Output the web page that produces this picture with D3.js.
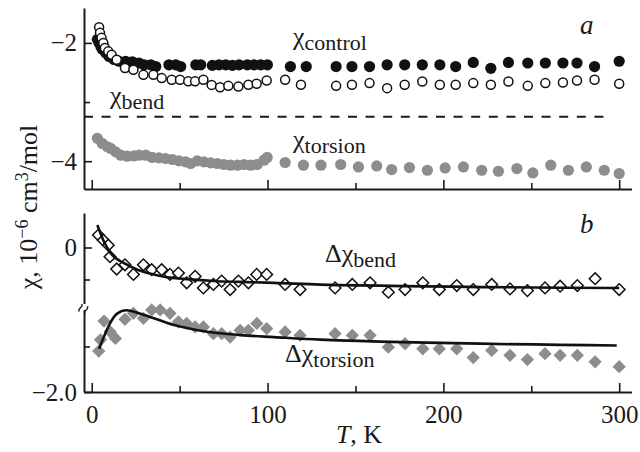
<!DOCTYPE html>
<html>
<head>
<meta charset="utf-8">
<script src="https://cdn.jsdelivr.net/npm/d3@7"></script>
<style>
  body { margin: 0; background: #fff; }
  svg { display: block; }
  svg text { font-family: "Liberation Serif", Tinos, "Times New Roman", Times, "DejaVu Serif", serif; }
</style>
</head>
<body>
<svg id="chart" width="640" height="452"></svg>
<script>
// --- Panel a: susceptibilities, 10^-6 cm3/mol ---
const controlT = [3.2, 4.2, 5.2, 6.1, 8, 9.9, 12.7, 15.5, 19.3, 23.1, 26.9, 29.8, 33.6, 36.4, 43.9, 47.8, 50.6, 59.2, 62, 68.6, 72.4, 76.2, 80, 83.8, 88.5, 92.3, 96.1, 99.9,
  113, 122, 139, 148, 158, 168, 178, 188, 198, 207, 217, 227, 237, 248, 258, 268, 276, 286, 300];
const controlChi = [-1.94, -2.0, -2.06, -2.11, -2.17, -2.23, -2.28, -2.31, -2.31, -2.32, -2.34, -2.37, -2.37, -2.40, -2.37, -2.37, -2.40, -2.37, -2.37, -2.38, -2.37, -2.37, -2.38, -2.37, -2.37, -2.37, -2.37, -2.37,
  -2.40, -2.40, -2.40, -2.40, -2.40, -2.37, -2.37, -2.37, -2.37, -2.40, -2.33, -2.43, -2.33, -2.34, -2.34, -2.34, -2.34, -2.40, -2.31];

const bendT = [4.2, 4.7, 5.6, 6.6, 7.5, 9.4, 11.3, 14.2, 18.9, 23.7, 29.4, 35.1, 39.8, 45.5, 50.2, 54.9, 58.8, 63.5, 68.2, 73, 77.7, 83.4, 89.1, 93.8, 99.5,
  110, 119, 139, 148, 158, 168, 178, 188, 198, 207, 217, 227, 237, 248, 258, 268, 276, 286, 300];
const bendChi = [-1.735, -1.83, -1.915, -2.0, -2.085, -2.143, -2.2, -2.284, -2.425, -2.454, -2.54, -2.54, -2.595, -2.624, -2.624, -2.65, -2.65, -2.624, -2.71, -2.75, -2.726, -2.737, -2.709, -2.69, -2.636,
  -2.624, -2.709, -2.726, -2.709, -2.68, -2.765, -2.709, -2.652, -2.709, -2.709, -2.68, -2.709, -2.652, -2.726, -2.68, -2.67, -2.636, -2.624, -2.69];

const torsionT = [3.2, 6.0, 8.9, 10.8, 13.6, 16.5, 20.2, 24, 26.9, 30.7, 34.4, 38.2, 42, 45.8, 49.6, 53.4, 56.3, 60, 63.8, 67.7, 71.4, 75.2, 79, 82.8, 86.6, 90.4, 94.1, 98, 99.8,
  110, 120.4, 130.4, 141.6, 151.7, 162.1, 170.6, 180.7, 190.9, 201, 211.4, 221.8, 231.3, 241.8, 250.9, 261.1, 271.1, 281.3, 291.5, 300];
const torsionChi = [-3.614, -3.70, -3.757, -3.784, -3.842, -3.898, -3.915, -3.91, -3.898, -3.898, -3.937, -3.944, -3.954, -3.971, -3.995, -4.012, -4.039, -3.995, -4.012, -4.029, -4.039, -4.056, -4.068, -4.068, -4.056, -4.068, -4.056, -3.983, -3.937,
  -4.022, -4.068, -4.068, -4.056, -4.097, -4.08, -4.141, -4.107, -4.153, -4.114, -4.097, -4.153, -4.17, -4.124, -4.199, -4.068, -4.153, -4.097, -4.153, -4.209];

// dashed reference level for chi_bend
const bendLevel = -3.25;
const bendLevelT = [-4.4, 294];

// --- Panel b: differences ---
const dBendT = [3.8, 6.6, 9.4, 10.4, 14.2, 18.9, 23.7, 29.4, 34.1, 39.8, 44.5, 49.3, 54, 58.8, 63.5, 69.2, 73.9, 78.7, 83.4, 89.1, 93.8, 99.5, 110, 118.5,
  138.4, 148.2, 158.3, 168.7, 178.2, 188.3, 197.7, 207.6, 217, 227.5, 237.9, 247.8, 257.8, 266.4, 276.2, 286.3, 300];
const dBendChi = [0.188, 0.11, 0.035, -0.144, -0.336, -0.27, -0.42, -0.27, -0.347, -0.347, -0.42, -0.40, -0.55, -0.45, -0.625, -0.574, -0.524, -0.65, -0.524, -0.55, -0.42, -0.42, -0.574, -0.65,
  -0.625, -0.574, -0.55, -0.69, -0.65, -0.55, -0.65, -0.59, -0.65, -0.574, -0.64, -0.666, -0.625, -0.60, -0.59, -0.488, -0.65];

const dTorsionT = [4, 5, 7, 10.5, 13.5, 18.9, 23.7, 29.4, 34.1, 38.9, 44.5, 49.3, 54, 58.8, 63.5, 69.2, 73.9, 78.7, 84.4, 89.1, 93.9, 99.5, 110, 118.5,
  138.4, 148.2, 158.3, 168.7, 178.2, 188.3, 197.7, 207.6, 217, 227.5, 237.9, 247.8, 257.8, 266.4, 276.2, 286.3, 300];
const dTorsionChi = [-1.55, -1.40, -1.12, -1.28, -1.38, -1.095, -1.005, -1.08, -0.955, -0.955, -1.005, -1.132, -1.156, -1.208, -1.208, -1.308, -1.308, -1.359, -1.258, -1.258, -1.156, -1.232, -1.283, -1.333,
  -1.308, -1.333, -1.333, -1.508, -1.459, -1.525, -1.525, -1.525, -1.622, -1.543, -1.597, -1.644, -1.579, -1.597, -1.597, -1.668, -1.722];

// fitted curves
const fitBendT = [3.2, 7, 10.8, 18.4, 26, 33.6, 43, 52.5, 71.4, 90.4, 103.7, 130, 300];
const fitBendChi = [0.34, 0.086, -0.09, -0.245, -0.347, -0.41, -0.465, -0.49, -0.525, -0.54, -0.55, -0.576, -0.627];
const fitTorsionT = [4.2, 14.6, 19.5, 29.8, 46.8, 65.8, 84.8, 103.7, 130, 298.6];
const fitTorsionChi = [-1.525, -1.005, -0.96, -1.03, -1.18, -1.28, -1.33, -1.36, -1.398, -1.485];

// ticks
const xMajorTicks = [0, 100, 200, 300];
const xMinorTicks = [50, 150, 250];
const aMajorTicks = [-2, -4];
const aMinorTicks = [-3];
const bMajorTicks = [0, -2];
const bMinorTicks = [-0.5, -1.5];
const bTickLabels = new Map([[0, "0"], [-2, "\u22122.0"]]);

const zip = (xs, ys) => xs.map((x, i) => ({ t: x, v: ys[i] }));

function drawChart() {
  const svg = d3.select("#chart");
  const grey = "#8d8d8d";
  const ink = "#1a1a1a";

  // --- Scales ---
  const x = d3.scaleLinear().domain([-4.4, 307]).range([84, 631.5]);
  const yA = d3.scaleLinear().domain([-4.47, -1.41]).range([189, 8]);
  // broken axis in panel b: piecewise scale
  const yB = d3.scaleLinear().domain([-2, -1.5, -0.5, 0, 0.52]).range([392, 346.5, 279.5, 247.5, 213]);

  function axes(yScale, yMajor, yMinor, yFmt, showX) {
    const g = svg.append("g");
    const yBase = yScale.range()[0];
    // x axis, ticks pointing inward
    g.append("g").attr("transform", `translate(0,${yBase})`)
      .call(d3.axisBottom(x).tickValues(xMajorTicks).tickSizeInner(-9).tickSizeOuter(0).tickPadding(13)
        .tickFormat(showX ? d3.format("d") : () => ""));
    g.append("g").attr("transform", `translate(0,${yBase})`)
      .call(d3.axisBottom(x).tickValues(xMinorTicks).tickSizeInner(-6).tickSizeOuter(0).tickFormat(() => ""))
      .select(".domain").remove();
    // y axis
    g.append("g").attr("transform", "translate(84,0)")
      .call(d3.axisLeft(yScale).tickValues(yMajor).tickSizeInner(-8).tickSizeOuter(0).tickPadding(7).tickFormat(yFmt));
    g.append("g").attr("transform", "translate(84,0)")
      .call(d3.axisLeft(yScale).tickValues(yMinor).tickSizeInner(-6).tickSizeOuter(0).tickFormat(() => ""))
      .select(".domain").remove();
    g.selectAll("g").attr("font-family", null).attr("font-size", null);
    g.selectAll(".domain").attr("stroke", ink).attr("stroke-width", 2);
    g.selectAll(".tick line").attr("stroke", ink).attr("stroke-width", 1.6);
    g.selectAll(".tick text").attr("fill", ink).style("font-size", "25px");
    return g;
  }

  // --- Panel a ---
  axes(yA, aMajorTicks, aMinorTicks, d => "\u2212" + Math.abs(d), false);

  svg.append("line")
    .attr("x1", x(bendLevelT[0])).attr("x2", x(bendLevelT[1]))
    .attr("y1", yA(bendLevel)).attr("y2", yA(bendLevel))
    .attr("stroke", ink).attr("stroke-width", 2).attr("stroke-dasharray", "9,8.6");

  svg.append("g").selectAll("circle").data(zip(torsionT, torsionChi)).join("circle")
    .attr("cx", d => x(d.t)).attr("cy", d => yA(d.v)).attr("r", 5.6).attr("fill", grey);

  svg.append("g").selectAll("circle").data(zip(controlT, controlChi)).join("circle")
    .attr("cx", d => x(d.t)).attr("cy", d => yA(d.v)).attr("r", 5.6).attr("fill", "#111");

  svg.append("g").selectAll("circle").data(zip(bendT, bendChi)).join("circle")
    .attr("cx", d => x(d.t)).attr("cy", d => yA(d.v)).attr("r", 4.5)
    .attr("fill", "#fff").attr("stroke", "#111").attr("stroke-width", 1.5);

  // --- Panel b ---
  axes(yB, bMajorTicks, bMinorTicks, d => bTickLabels.get(d), true);

  // axis break mark
  const brk = svg.append("g").attr("transform", `translate(84,${(yB(-0.5) + yB(-1.5)) / 2 - 6})`);
  brk.append("rect").attr("x", -3).attr("y", -3).attr("width", 6).attr("height", 6).attr("fill", "#fff");
  brk.append("path").attr("d", "M-6,-3 C-3,-6 -1,0 2,-3").attr("transform", "rotate(-70)")
    .attr("fill", "none").attr("stroke", ink).attr("stroke-width", 1.3);
  brk.append("path").attr("d", "M-6,3 C-3,0 -1,6 2,3").attr("transform", "rotate(-70)")
    .attr("fill", "none").attr("stroke", ink).attr("stroke-width", 1.3);

  const diamond = d3.symbol().type(d3.symbolSquare);

  svg.append("g").selectAll("path").data(zip(dTorsionT, dTorsionChi)).join("path")
    .attr("d", diamond.size(88)())
    .attr("transform", d => `translate(${x(d.t)},${yB(d.v)}) rotate(45)`)
    .attr("fill", grey);

  const line = d3.line().x(d => x(d.t)).y(d => yB(d.v)).curve(d3.curveMonotoneX);
  svg.append("path").datum(zip(fitTorsionT, fitTorsionChi)).attr("d", line)
    .attr("fill", "none").attr("stroke", "#111").attr("stroke-width", 2.6);

  svg.append("g").selectAll("path").data(zip(dBendT, dBendChi)).join("path")
    .attr("d", diamond.size(68)())
    .attr("transform", d => `translate(${x(d.t)},${yB(d.v)}) rotate(45)`)
    .attr("fill", "#fff").attr("stroke", "#111").attr("stroke-width", 1.5);

  svg.append("path").datum(zip(fitBendT, fitBendChi)).attr("d", line)
    .attr("fill", "none").attr("stroke", "#111").attr("stroke-width", 2.6);

  // --- Labels ---
  const lab = (px, py, main, sub, prefix) => {
    const t = svg.append("text").attr("x", px).attr("y", py).attr("fill", ink).style("font-size", "26px");
    if (prefix) t.append("tspan").text(prefix);
    t.append("tspan").text(main);
    t.append("tspan").attr("dy", 5).style("font-size", "22px").text(sub);
  };
  lab(293, 45, "\u03c7", "control");
  lab(110, 104, "\u03c7", "bend");
  lab(293, 148, "\u03c7", "torsion");
  lab(325, 262, "\u03c7", "bend", "\u0394");
  lab(285, 362, "\u03c7", "torsion", "\u0394");

  svg.append("text").attr("x", 580).attr("y", 34).style("font-size", "27px").style("font-style", "italic")
    .attr("fill", ink).text("a");
  svg.append("text").attr("x", 580).attr("y", 233).style("font-size", "27px").style("font-style", "italic")
    .attr("fill", ink).text("b");

  // axis titles
  const xt = svg.append("text").attr("x", 359).attr("y", 443).attr("text-anchor", "middle")
    .attr("fill", ink).style("font-size", "26px");
  xt.append("tspan").style("font-style", "italic").text("T");
  xt.append("tspan").text(", K");

  const yt = svg.append("text").attr("transform", "translate(37,207) rotate(-90)").attr("text-anchor", "middle")
    .attr("fill", ink).style("font-size", "26px");
  yt.append("tspan").text("\u03c7, 10");
  yt.append("tspan").attr("dy", -9).style("font-size", "18px").text("\u22126");
  yt.append("tspan").attr("dy", 9).text(" cm");
  yt.append("tspan").attr("dy", -9).style("font-size", "18px").text("3");
  yt.append("tspan").attr("dy", 9).text("/mol");
}

drawChart();
</script>
</body>
</html>
